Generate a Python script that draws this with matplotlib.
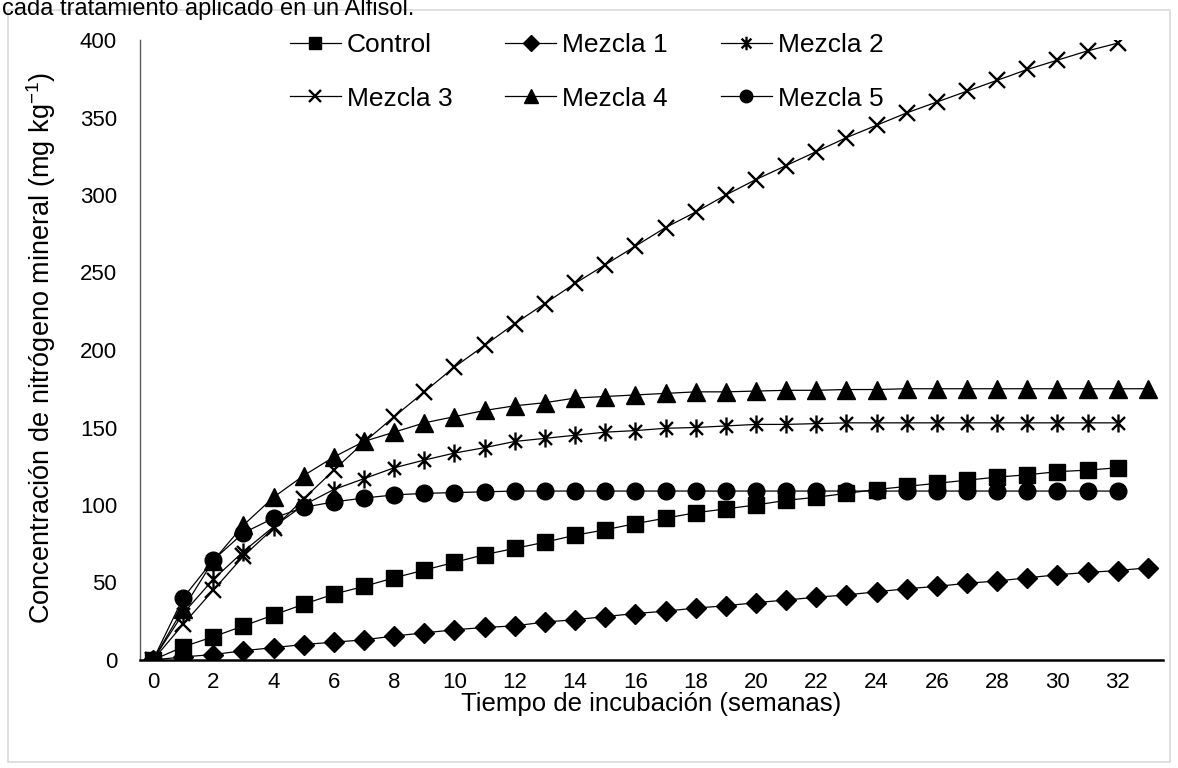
import matplotlib
matplotlib.use("Agg")
import matplotlib.pyplot as plt
from matplotlib.path import Path
from matplotlib.patches import Rectangle

plt.rcParams["font.family"] = ["Liberation Sans", "DejaVu Sans"]

# ============================================
# DATA
# ============================================
control = [0, 8.5, 15, 22, 29, 36, 42.5, 47.5, 53, 58, 63, 68, 72, 76, 80.5, 84,
           88, 91.5, 95, 97.5, 100, 103, 105, 107.5, 110, 112, 114, 116, 118,
           119.5, 121.5, 122.5, 124]
mezcla1 = [0, 2, 3.5, 6, 8, 10, 11.5, 13, 15.5, 17.5, 19.5, 21, 22, 24.5, 26, 28,
           30, 31.5, 33.5, 35, 37, 38.7, 40.5, 42, 44, 46, 47.5, 49.5, 51, 53,
           55, 56.5, 57.7, 59.5]
mezcla2 = [0, 30, 52, 70, 86, 100, 110, 117, 124, 129, 133.5, 137, 141, 143, 145,
           147, 148, 149.5, 150, 151, 152, 152, 152.5, 153, 153, 153, 153, 153,
           153, 153, 153, 153, 153]
mezcla3 = [0, 23, 45, 67, 85, 104, 122.5, 140.5, 157, 173, 189, 203, 217, 230, 243,
           255, 267, 279, 289, 300, 310, 319, 328, 337, 345, 353, 360, 367, 374,
           381, 387, 393, 398]
mezcla4 = [0, 33, 64, 87, 105, 119, 131, 141, 147, 153, 157, 161, 164, 166, 169,
           170, 171, 172, 173, 173, 173.5, 174, 174, 174.5, 174.5, 175, 175, 175,
           175, 175, 175, 175, 175, 175]
mezcla5 = [0, 40, 64.5, 82, 91.5, 98.5, 102, 104.5, 106.5, 107.5, 108, 108.5, 109,
           109, 109, 109, 109, 109, 109, 109, 109, 109, 109, 109, 109, 109, 109,
           109, 109, 109, 109, 109, 109]

series_names = ["Control", "Mezcla 1", "Mezcla 2", "Mezcla 3", "Mezcla 4", "Mezcla 5"]
series_values = [control, mezcla1, mezcla2, mezcla3, mezcla4, mezcla5]
x_ticks = list(range(0, 33, 2))
y_ticks = list(range(0, 401, 50))

# Excel-style star marker: X plus vertical bar
star = Path([(0, -1), (0, 1), (-0.72, -0.72), (0.72, 0.72), (-0.72, 0.72), (0.72, -0.72)],
            [Path.MOVETO, Path.LINETO, Path.MOVETO, Path.LINETO, Path.MOVETO, Path.LINETO])

styles = {
    "Control": dict(marker="s", ms=12),
    "Mezcla 1": dict(marker="D", ms=10.5),
    "Mezcla 2": dict(marker=star, ms=13, mew=1.7),
    "Mezcla 3": dict(marker="x", ms=11, mew=1.7),
    "Mezcla 4": dict(marker="^", ms=13),
    "Mezcla 5": dict(marker="o", ms=12),
}

# ============================================
# PLOT
# ============================================
W, H = 1178, 768
fig = plt.figure(figsize=(W / 100, H / 100), dpi=100)

# light outer chart border
fig.patches.append(Rectangle((8 / W, 6 / H), 1162 / W, 752 / H, transform=fig.transFigure,
                             fill=False, edgecolor="#d9d9d9", linewidth=1.2))

# caption text running in from the page above the chart
fig.text(2 / W, 1 - 15 / H, "cada tratamiento aplicado en un Alfisol.",
         fontsize=17, va="baseline", ha="left", color="black")

ax = fig.add_axes([140 / W, 108 / H, 1023 / W, 620 / H])

handles = {}
for name, vals in zip(series_names, series_values):
    st = styles[name]
    line, = ax.plot(range(len(vals)), vals, color="black", linewidth=0.9,
                    marker=st["marker"], markersize=st["ms"],
                    markeredgewidth=st.get("mew", 1.0),
                    markerfacecolor="black", markeredgecolor="black", label=name)
    handles[name] = line

ax.set_xlim(-0.43, 33.5)
ax.set_ylim(0, 400)
ax.set_xticks(x_ticks)
ax.set_yticks(y_ticks)
ax.tick_params(axis="both", length=0, labelsize=16)
ax.tick_params(axis="y", pad=16.5)
ax.tick_params(axis="x", pad=8.5)

for side in ["top", "right"]:
    ax.spines[side].set_visible(False)
ax.spines["left"].set_color("#595959")
ax.spines["left"].set_linewidth(1.0)
ax.spines["bottom"].set_color("black")
ax.spines["bottom"].set_linewidth(1.8)

ax.set_xlabel("Tiempo de incubación (semanas)", fontsize=18.5)
ax.xaxis.set_label_coords(0.5, -0.052)
ax.set_ylabel("Concentración de nitrógeno mineral (mg kg$^{\\mathregular{-1}}$)",
              fontsize=19.5)
ax.yaxis.set_label_coords(-0.08, 0.503)

order = ["Control", "Mezcla 3", "Mezcla 1", "Mezcla 4", "Mezcla 2", "Mezcla 5"]
leg = ax.legend([handles[n] for n in order], order, ncol=3, frameon=False,
                fontsize=19, handlelength=1.93, handletextpad=0.23,
                columnspacing=2.0, labelspacing=1.12, markerscale=0.75,
                borderpad=0, borderaxespad=0,
                loc="upper left", bbox_to_anchor=(150 / 1023, 1 + 7 / 620))

fig.savefig("out.png", dpi=100)
